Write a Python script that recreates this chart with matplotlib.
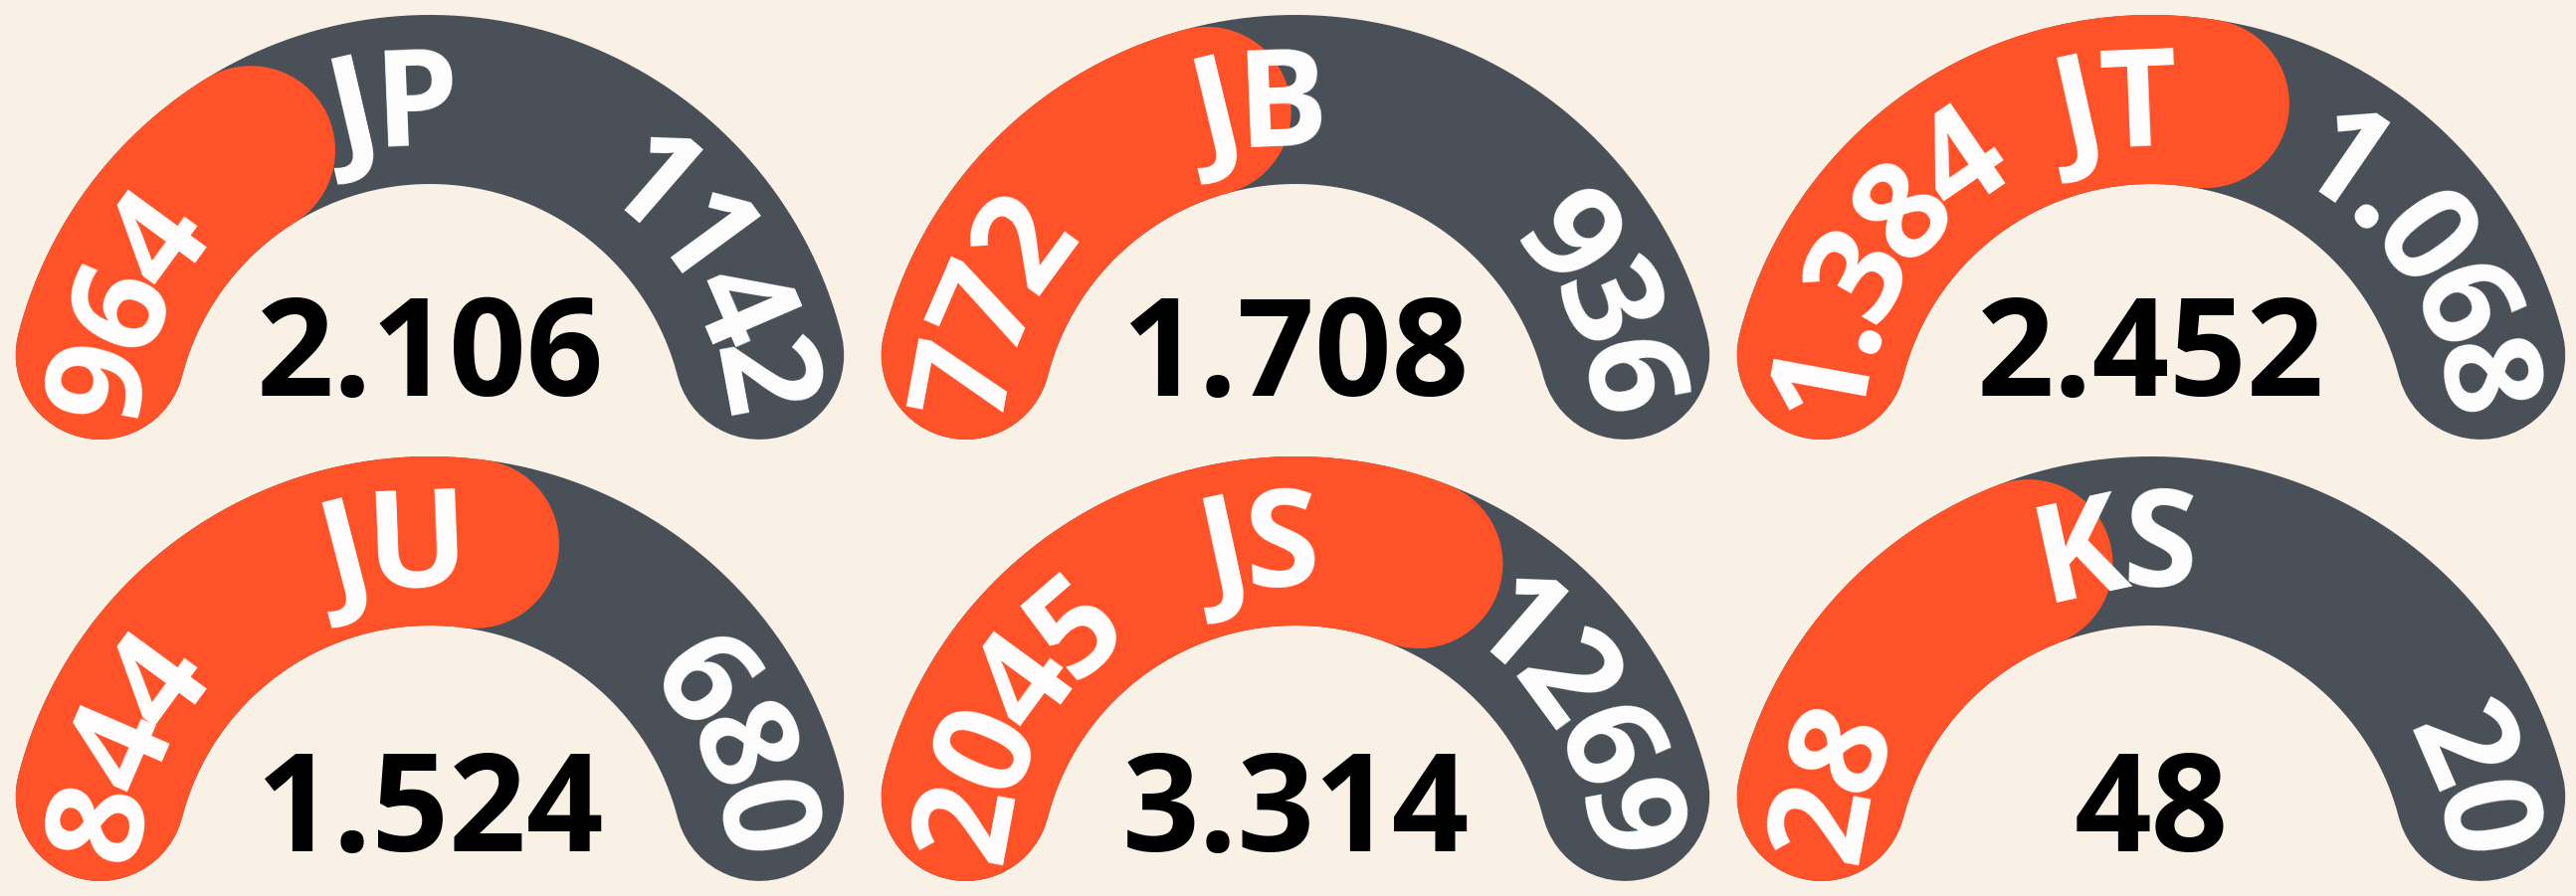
import numpy as np
import matplotlib
matplotlib.use("Agg")
import matplotlib.pyplot as plt
from matplotlib.font_manager import FontProperties, findfont, get_font

# gauge data (row by row)
codes = ["JP", "JB", "JT", "JU", "JS", "KS"]
left_values = [964, 772, 1.384, 844, 2045, 28]
right_values = [1142, 936, 1.068, 680, 1269, 20]
fill_pct = [29, 40, 56, 55, 64, 36]  # orange share of the arc as drawn

BG = "#f9f1e5"
ORANGE = "#ff5229"
DARK = "#4a5058"

W, H, DPI = 2589, 901, 100
COL_X = [432, 1302, 2162]
ROW_Y = [459, 15]          # ring centres, pixels from the bottom
NUM_DY = [44, 30]          # baseline of the total above the ring centre
R_MID = 342                # middle of the band
BAND = 170                 # band thickness in px
A0, A1 = 165.6, 14.4       # arc start / end angle (deg)
R_TXT = 345
FS_PX = 136


def label(v):
    return f"{v:.3f}" if isinstance(v, float) else str(v)


def total_label(v):
    return f"{v:.3f}" if isinstance(v, float) else f"{v:,}".replace(",", ".")


fig = plt.figure(figsize=(W / DPI, H / DPI), dpi=DPI, facecolor=BG)
ax = fig.add_axes([0, 0, 1, 1])
ax.set_xlim(0, W)
ax.set_ylim(0, H)
ax.axis("off")

fp = FontProperties(family=["Open Sans", "DejaVu Sans"], weight="bold")
ft = get_font(findfont(fp))
ft.set_size(FS_PX, 72)
fs_pt = FS_PX * 72 / DPI
lw_pt = BAND * 72 / DPI
cap_h = 0.714 * FS_PX
r_base = R_TXT - cap_h / 2


def adv(ch):
    return ft.load_char(ord(ch)).linearHoriAdvance / 65536


def arc_text(cx, cy, s, start):
    # lay characters clockwise along the band, starting at angle `start`
    pos = 0.0
    for ch in s:
        w = adv(ch)
        a = np.radians(start) - (pos + w / 2) / R_TXT
        ax.text(cx + r_base * np.cos(a), cy + r_base * np.sin(a), ch,
                rotation=np.degrees(a) - 90, rotation_mode="anchor",
                ha="center", va="baseline", color="white",
                fontproperties=fp, fontsize=fs_pt)
        pos += w


def str_len(s):
    return sum(adv(c) for c in s)


for i, code in enumerate(codes):
    cx = COL_X[i % 3]
    cy = ROW_Y[i // 3]

    t = np.linspace(np.radians(A0), np.radians(A1), 200)
    ax.plot(cx + R_MID * np.cos(t), cy + R_MID * np.sin(t), color=DARK,
            lw=lw_pt, solid_capstyle="round")

    a_end = A0 - (A0 - A1) * fill_pct[i] / 100
    t = np.linspace(np.radians(A0), np.radians(a_end), 200)
    ax.plot(cx + R_MID * np.cos(t), cy + R_MID * np.sin(t), color=ORANGE,
            lw=lw_pt, solid_capstyle="round")

    left = label(left_values[i])
    right = label(right_values[i])
    arc_text(cx, cy, left, 176)
    arc_text(cx, cy, right, 4 + np.degrees(str_len(right) / R_TXT))
    arc_text(cx, cy, code, 96 + np.degrees(str_len(code) / 2 / R_TXT))

    ax.text(cx, cy + NUM_DY[i // 3],
            total_label(left_values[i] + right_values[i]),
            ha="center", va="baseline", color="black",
            fontproperties=fp, fontsize=fs_pt)

fig.savefig("out.png", dpi=DPI, facecolor=BG)
